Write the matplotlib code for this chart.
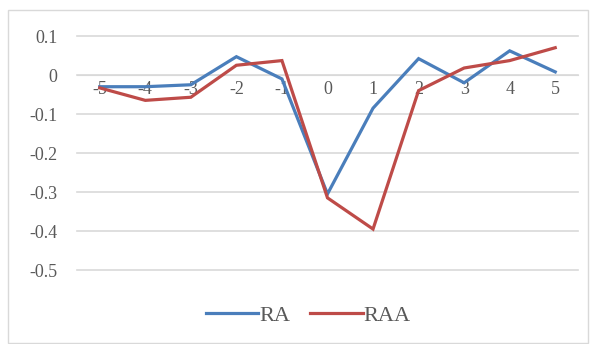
import matplotlib.pyplot as plt
from matplotlib.patches import Rectangle

# lag positions and the two series
lags = [-5, -4, -3, -2, -1, 0, 1, 2, 3, 4, 5]
ra = [-0.030, -0.030, -0.025, 0.047, -0.010, -0.305, -0.085, 0.042, -0.020, 0.062, 0.008]
raa = [-0.033, -0.065, -0.057, 0.025, 0.037, -0.315, -0.395, -0.040, 0.018, 0.037, 0.070]
yticks = [0.1, 0, -0.1, -0.2, -0.3, -0.4, -0.5]
ytick_labels = ["0.1", "0", "-0.1", "-0.2", "-0.3", "-0.4", "-0.5"]

plt.rcParams['font.family'] = ['Liberation Serif', 'DejaVu Serif']

fig = plt.figure(figsize=(5.93, 3.44), dpi=100)
ax = fig.add_axes([0.1298, 0.2151, 0.8449, 0.6802])

x = list(range(len(lags)))
ax.plot(x, ra, color='#4A7EBB', lw=2.3, label='RA', solid_joinstyle='miter', clip_on=False)
ax.plot(x, raa, color='#BE4B48', lw=2.3, label='RAA', solid_joinstyle='miter', clip_on=False)

ax.set_xlim(-0.5, len(lags) - 0.5)
ax.set_ylim(-0.5, 0.1)
ax.set_yticks(yticks)
ax.set_yticklabels(ytick_labels)
ax.set_xticks(x)
ax.set_xticklabels([str(v) for v in lags])

# category axis crosses at zero
for s in ['top', 'right', 'left']:
    ax.spines[s].set_visible(False)
ax.spines['bottom'].set_position(('data', 0))
ax.spines['bottom'].set_color('#D9D9D9')
ax.spines['bottom'].set_zorder(0)

ax.grid(axis='y', color='#D9D9D9', lw=1.2, clip_on=False)
ax.set_axisbelow(True)
ax.tick_params(axis='both', length=0, labelsize=13, labelcolor='#595959')
ax.tick_params(axis='y', pad=14)
ax.tick_params(axis='x', pad=4)

fig.legend(loc='center', bbox_to_anchor=(0.52, 0.083), ncol=2, frameon=False,
           fontsize=16, labelcolor='#595959', handlelength=2.35,
           handletextpad=0.05, columnspacing=0.9)

# light chart-area border
fig.patches.append(Rectangle((8 / 593, 1 / 344), 580 / 593, 333 / 344,
                             transform=fig.transFigure, fill=False,
                             edgecolor='#D9D9D9', lw=1))

fig.savefig('out.png', dpi=100)
